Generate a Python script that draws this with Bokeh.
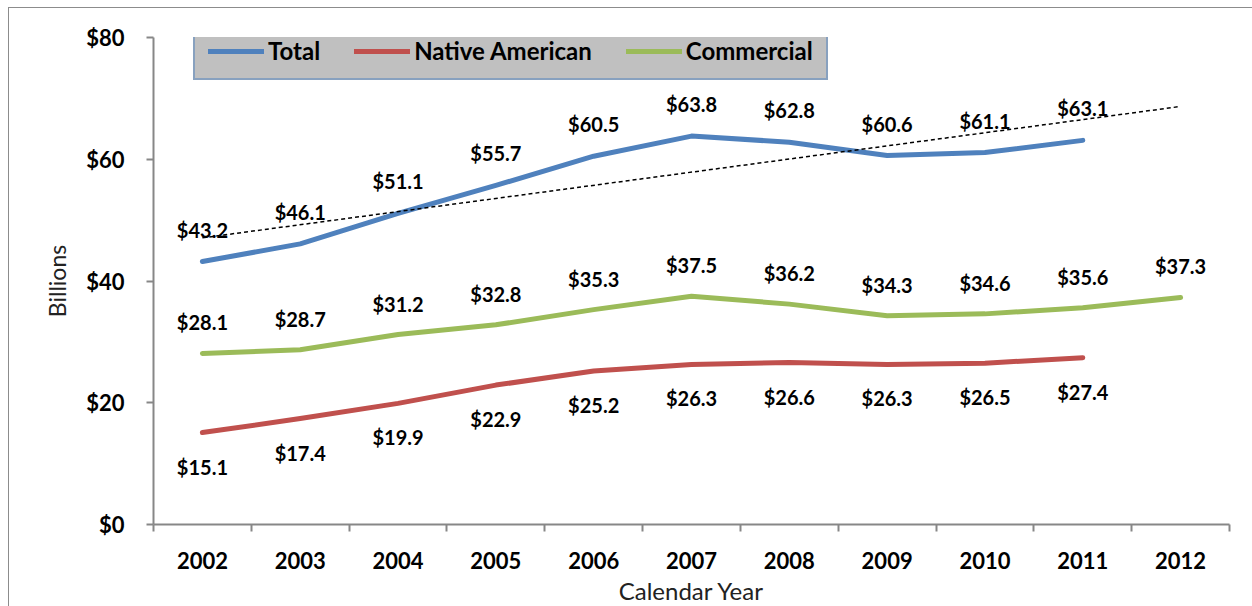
import numpy as np
from bokeh.plotting import figure
from bokeh.models import Range1d, FixedTicker, NumeralTickFormatter, Legend, LegendItem, ColumnDataSource
from bokeh.core.properties import value
from bokeh.embed import file_html
from bokeh.resources import INLINE

years = [2002, 2003, 2004, 2005, 2006, 2007, 2008, 2009, 2010, 2011, 2012]
total = [43.2, 46.1, 51.1, 55.7, 60.5, 63.8, 62.8, 60.6, 61.1, 63.1]
native = [15.1, 17.4, 19.9, 22.9, 25.2, 26.3, 26.6, 26.3, 26.5, 27.4]
commercial = [28.1, 28.7, 31.2, 32.8, 35.3, 37.5, 36.2, 34.3, 34.6, 35.6, 37.3]
y_ticks = [0, 20, 40, 60, 80]

BLUE = "#4F81BD"
RED = "#C0504D"
GREEN = "#9BBB59"
AXIS = "#878787"
FONT = "Lato"

p = figure(width=1243, height=598, output_backend="svg", toolbar_location=None,
           x_range=Range1d(-0.5, len(years) - 0.5), y_range=Range1d(0, 80),
           frame_width=1076, frame_height=487,
           min_border_left=144, min_border_top=29, min_border_right=23, min_border_bottom=82)
p.styles = {"margin-left": "8px", "margin-top": "7px",
            "border-left": "1px solid #8c8c8c", "border-top": "1px solid #8c8c8c"}
p.outline_line_color = None
p.xgrid.visible = False
p.ygrid.visible = False
p.background_fill_color = "white"
p.border_fill_color = "white"

xi = list(range(len(years)))

# x axis
xa = p.xaxis[0]
xa.ticker = FixedTicker(ticks=xi, minor_ticks=[i - 0.5 for i in range(len(years) + 1)])
xa.major_label_overrides = {i: str(y) for i, y in enumerate(years)}
xa.major_tick_line_color = None
xa.major_tick_out = 0
xa.major_tick_in = 0
xa.minor_tick_line_color = AXIS
xa.minor_tick_line_width = 2
xa.minor_tick_out = 7
xa.minor_tick_in = 0
xa.axis_line_color = AXIS
xa.axis_line_width = 2
xa.major_label_standoff = 20
xa.major_label_text_font = FONT
xa.major_label_text_font_style = "bold"
xa.major_label_text_font_size = "22px"
xa.major_label_text_color = "black"
xa.axis_label = "Calendar Year"
xa.axis_label_text_font = FONT
xa.axis_label_text_font_style = "normal"
xa.axis_label_text_font_size = "24px"
xa.axis_label_text_color = "#222222"
xa.axis_label_standoff = 4

# y axis
ya = p.yaxis[0]
ya.ticker = FixedTicker(ticks=y_ticks)
ya.formatter = NumeralTickFormatter(format="$0")
ya.major_tick_line_color = AXIS
ya.major_tick_line_width = 2
ya.major_tick_out = 7
ya.major_tick_in = 0
ya.minor_tick_line_color = None
ya.axis_line_color = AXIS
ya.axis_line_width = 2
ya.major_label_standoff = 22
ya.major_label_text_font = FONT
ya.major_label_text_font_style = "bold"
ya.major_label_text_font_size = "22px"
ya.major_label_text_color = "black"
ya.axis_label = "Billions"
ya.axis_label_text_font = FONT
ya.axis_label_text_font_style = "normal"
ya.axis_label_text_font_size = "23px"
ya.axis_label_text_color = "#222222"
ya.axis_label_standoff = 12

src_t = ColumnDataSource(dict(x=xi[:len(total)], y=total, lab=["$%.1f" % v for v in total]))
src_n = ColumnDataSource(dict(x=xi[:len(native)], y=native, lab=["$%.1f" % v for v in native]))
src_c = ColumnDataSource(dict(x=xi[:len(commercial)], y=commercial, lab=["$%.1f" % v for v in commercial]))

r_t = p.line("x", "y", source=src_t, line_color=BLUE, line_width=5, line_cap="round", line_join="round")
r_n = p.line("x", "y", source=src_n, line_color=RED, line_width=5, line_cap="round", line_join="round")
r_c = p.line("x", "y", source=src_c, line_color=GREEN, line_width=5, line_cap="round", line_join="round")

# linear trendline of Total, forecast one period forward
slope, intercept = np.polyfit(np.arange(len(total)), np.array(total), 1)
tx = [0, len(years) - 1]
ty = [intercept + slope * t for t in tx]
p.line(tx, ty, line_color="black", line_width=1.5, line_dash="4 3")

lab_kw = dict(text="lab", text_align="center", text_baseline="middle",
              text_font=value(FONT), text_font_style="bold", text_font_size="20px", text_color="black")
p.text("x", "y", source=src_t, y_offset=-32, **lab_kw)
p.text("x", "y", source=src_n, y_offset=34, **lab_kw)
p.text("x", "y", source=src_c, y_offset=-31, **lab_kw)

legend = Legend(items=[LegendItem(label="Total", renderers=[r_t]),
                       LegendItem(label="Native American", renderers=[r_n]),
                       LegendItem(label="Commercial", renderers=[r_c])],
                orientation="horizontal", location=(40, 444))
legend.background_fill_color = "#C0C0C0"
legend.background_fill_alpha = 1
legend.border_line_color = BLUE
legend.border_line_width = 2
legend.padding = 13
legend.spacing = 34
legend.glyph_width = 56
legend.label_standoff = 4
legend.label_text_font = FONT
legend.label_text_font_style = "bold"
legend.label_text_font_size = "24px"
legend.label_text_color = "black"
legend.margin = 0
p.add_layout(legend, "center")

open("out.html", "w").write(file_html(p, INLINE))
